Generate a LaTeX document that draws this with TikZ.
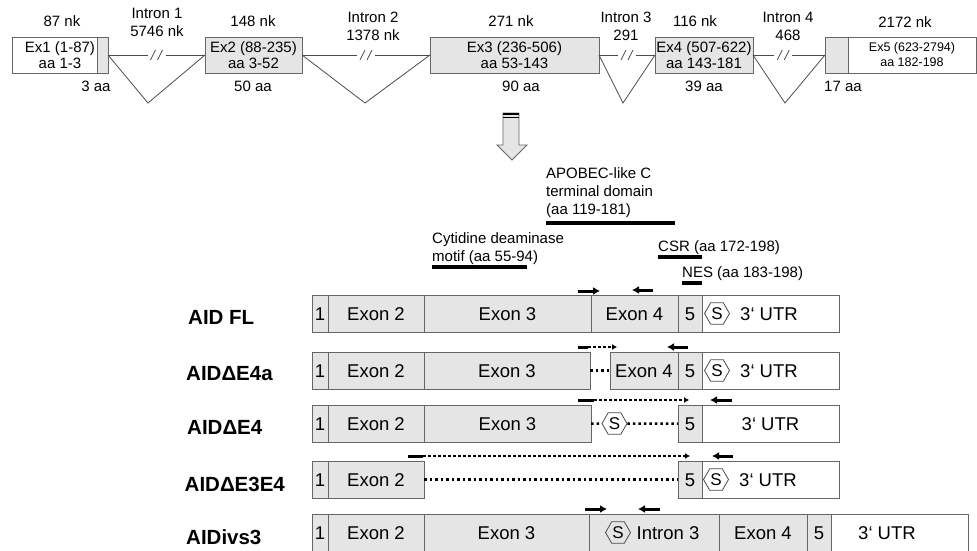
\documentclass[tikz,border=0pt]{standalone}
\usepackage{fontspec}
\setmainfont{Liberation Sans}
\usetikzlibrary{positioning,shapes.geometric,arrows.meta}

\tikzset{
  exbox/.style={draw=black!60, fill=black!10, minimum height=36pt, inner sep=0pt, outer sep=0pt, anchor=west, align=center, font=\fontsize{15}{16}\selectfont},
  intr/.style={draw=black!70, line width=0.8pt},
  brk/.style={fill=white, inner sep=0pt, minimum width=18pt, minimum height=10pt,
    path picture={
      \draw[black!70, line width=0.8pt] ([xshift=3pt]path picture bounding box.south west) -- ++(5pt,10pt);
      \draw[black!70, line width=0.8pt] ([xshift=10pt]path picture bounding box.south west) -- ++(5pt,10pt);
    }},
  lbl/.style={anchor=base, inner sep=0pt, font=\fontsize{15}{18}\selectfont},
  ilbl/.style={inner sep=0pt, align=center, font=\fontsize{15}{18}\selectfont},
  note/.style={inner sep=0pt, align=left, font=\fontsize{15}{18}\selectfont},
  seg/.style={draw=black!60, fill=black!10, minimum height=37pt, inner sep=0pt, outer sep=0pt, line width=0.9pt, font=\fontsize{18.5}{20}\selectfont, text height=13.3pt, text depth=0pt},
  utr/.style={seg, fill=white},
  rowtxt/.style={inner sep=0pt, font=\fontsize{18.5}{20}\selectfont, text height=13.3pt, text depth=0pt},
  hexa/.style={regular polygon, regular polygon sides=6, draw=black!70, line width=0.8pt, minimum size=25pt, inner sep=0pt, font=\fontsize{17}{17}\selectfont},
  isoform/.style={anchor=base west, inner sep=0pt, font=\fontsize{20.5}{24}\selectfont\bfseries},
  bar/.style={line width=3.5pt},
  primer/.style={line width=3pt, -{Latex[length=7pt,width=8pt]}},
  dotprimer/.style={line width=2.5pt, dash pattern=on 2.5pt off 2.5pt, -{Latex[length=5pt,width=6pt]}},
  gapline/.style={line width=2.5pt, dash pattern=on 2.5pt off 3pt},
}

\begin{document}
\begin{tikzpicture}[x=1pt, y=-1pt]
    \useasboundingbox (0,0) rectangle (977,551);

    % gene structure
    \node[exbox, fill=white, minimum width=96pt] (ex1) at (12,55) {Ex1 (1-87)\\aa 1-3};
    \node[exbox, minimum width=11pt] (ex1c) at (97,55) {};
    \node[exbox, minimum width=97pt] (ex2) at (205,55) {Ex2 (88-235)\\aa 3-52};
    \node[exbox, minimum width=169pt] (ex3) at (430,55) {Ex3 (236-506)\\aa 53-143};
    \node[exbox, minimum width=98pt] (ex4) at (655,55) {Ex4 (507-622)\\aa 143-181};
    \node[exbox, minimum width=23pt] (ex5c) at (825,55) {};
    \node[exbox, fill=white, minimum width=128pt, font=\fontsize{12.5}{15}\selectfont, right=0pt of ex5c] (ex5) {Ex5 (623-2794)\\aa 182-198};

    \foreach \a/\b/\v/\p in {ex1c/ex2/148/0.5, ex2/ex3/365/0.5, ex3/ex4/623/0.5, ex4/ex5c/785/0.42} {
        \coordinate (v\a) at (\v,103);
        \draw[intr] (\a.east) -- node[brk, pos=\p] (k\a) {} (\b.west);
        \draw[intr] (\a.east) -- (v\a) -- (\b.west);
    }

    \node[ilbl] (i1) at (157,22.5) {Intron 1\\5746 nk};
    \node[ilbl] (i2) at (373,26.5) {Intron 2\\1378 nk};
    \node[ilbl] (i3) at (626,26.5) {Intron 3\\291};
    \node[ilbl] (i4) at (788,26.5) {Intron 4\\468};

    \node[lbl] (n1) at (62,26.5) {87 nk};
    \node[lbl] (n2) at (253,26.5) {148 nk};
    \node[lbl] (n3) at (511,26.5) {271 nk};
    \node[lbl] (n4) at (695,26.5) {116 nk};
    \node[lbl] (n5) at (905,27.5) {2172 nk};
    \node[lbl] (aa1) at (96,92) {3 aa};
    \node[lbl] (aa2) at (253,92) {50 aa};
    \node[lbl] (aa3) at (521,92) {90 aa};
    \node[lbl] (aa4) at (704,92) {39 aa};
    \node[lbl] (aa5) at (843,92) {17 aa};

    % block arrow
    \draw[draw=black!60, fill=black!10, line width=0.8pt] (503,113) -- (519,113) -- (519,145) -- (527,145) -- (512,160) -- (497,145) -- (503,145) -- cycle;
    \draw[line width=1.5pt] (503,114) -- (519,114);
    \draw[line width=1pt] (503,117.5) -- (519,117.5);

    % domains
    \node[note, anchor=north west] (apobec) at (546,167) {APOBEC-like C\\terminal domain\\(aa 119-181)};
    \node[note, anchor=north west] (cyt) at (432,232) {Cytidine deaminase\\motif (aa 55-94)};
    \node[note, anchor=base west] (csr) at (658,251) {CSR (aa 172-198)};
    \node[note, anchor=base west] (nes) at (682,277.5) {NES (aa 183-198)};
    \foreach \n/\xa/\xb/\y in {apo/546/675/223, cyt/432/527/267, csr/658/702/257, nes/682/702/283} {
        \coordinate (s\n) at (\xa,\y);
        \coordinate (e\n) at (\xb,\y);
        \draw[bar] (s\n) -- (e\n);
    }

    % isoforms
    \node[isoform] (fl) at (188,324) {AID FL};
    \node[isoform] (e4a) at (186,380.5) {AIDΔE4a};
    \node[isoform] (e4) at (187,434) {AIDΔE4};
    \node[isoform] (e3e4) at (184.5,491) {AIDΔE3E4};
    \node[isoform] (ivs) at (186,544) {AIDivs3};

    % AID FL
    \node[seg, anchor=west, minimum width=16pt] (a1) at (312,313.5) {1};
    \node[seg, minimum width=96pt, right=0pt of a1] (a2) {Exon 2};
    \node[seg, minimum width=167pt, right=0pt of a2] (a3) {Exon 3};
    \node[seg, minimum width=87pt, right=0pt of a3] (a4) {Exon 4};
    \node[seg, minimum width=24pt, right=0pt of a4] (a5) {5};
    \node[utr, minimum width=137pt, right=0pt of a5] (a6) {};
    \node[hexa] (as) at (717,313.5) {S};
    \node[rowtxt] (au) at (769,313.5) {3‘ UTR};

    % AID dE4a
    \node[seg, anchor=west, minimum width=16pt] (b1) at (312,370.5) {1};
    \node[seg, minimum width=96pt, right=0pt of b1] (b2) {Exon 2};
    \node[seg, minimum width=166pt, right=0pt of b2] (b3) {Exon 3};
    \node[seg, anchor=west, minimum width=68pt] (b4) at (610,370.5) {Exon 4};
    \node[seg, minimum width=24pt, right=0pt of b4] (b5) {5};
    \node[utr, minimum width=137pt, right=0pt of b5] (b6) {};
    \node[hexa] (bs) at (717,370.5) {S};
    \node[rowtxt] (bu) at (769,370.5) {3‘ UTR};
    \draw[gapline] (b3.east) -- (b4.west);

    % AID dE4
    \node[seg, anchor=west, minimum width=16pt] (c1) at (312,423.5) {1};
    \node[seg, minimum width=96pt, right=0pt of c1] (c2) {Exon 2};
    \node[seg, minimum width=167pt, right=0pt of c2] (c3) {Exon 3};
    \node[hexa] (cs) at (614.5,423.5) {S};
    \node[seg, anchor=west, minimum width=24pt] (c5) at (678,423.5) {5};
    \node[utr, minimum width=137pt, right=0pt of c5] (c6) {3‘ UTR};
    \draw[gapline] (c3.east) -- (cs.west);
    \draw[gapline] (cs.east) -- (c5.west);

    % AID dE3E4
    \node[seg, anchor=west, minimum width=16pt] (d1) at (312,479.5) {1};
    \node[seg, minimum width=96pt, right=0pt of d1] (d2) {Exon 2};
    \node[seg, anchor=west, minimum width=24pt] (d5) at (678,479.5) {5};
    \node[utr, minimum width=137pt, right=0pt of d5] (d6) {};
    \node[hexa] (ds) at (716,479.5) {S};
    \node[rowtxt] (du) at (768,479.5) {3‘ UTR};
    \draw[gapline] (d2.east) -- (d5.west);

    % AIDivs3
    \node[seg, anchor=west, minimum width=16pt] (g1) at (312,532.5) {1};
    \node[seg, minimum width=96pt, right=0pt of g1] (g2) {Exon 2};
    \node[seg, minimum width=165pt, right=0pt of g2] (g3) {Exon 3};
    \node[seg, minimum width=130pt, right=0pt of g3] (g4) {};
    \node[seg, minimum width=88pt, right=0pt of g4] (g5) {Exon 4};
    \node[seg, minimum width=24pt, right=0pt of g5] (g6) {5};
    \node[utr, minimum width=137pt, right=0pt of g6] (g7) {};
    \node[hexa] (gs) at (618,532.5) {S};
    \node[rowtxt] (gi) at (668,532.5) {Intron 3};
    \node[rowtxt] (gu) at (887,532.5) {3‘ UTR};

    % primers
    \foreach \n/\xa/\xb/\y in {p1/578/600/291, p2/585/607/509, q1/653/632/290, q2/688/667/347, q3/732/710/400, q4/733/712/456, q5/660/638/509} {
        \coordinate (s\n) at (\xa,\y);
        \coordinate (e\n) at (\xb,\y);
        \draw[primer] (s\n) -- (e\n);
    }
    \foreach \n/\xa/\xm/\xb/\y in {r2/578/588/617/347, r3/578/594/689/400, r4/408/423/690/456} {
        \coordinate (s\n) at (\xa,\y);
        \coordinate (m\n) at (\xm,\y);
        \coordinate (e\n) at (\xb,\y);
        \draw[line width=3pt] (s\n) -- (m\n);
        \draw[dotprimer] (m\n) -- (e\n);
    }
\end{tikzpicture}
\end{document}
